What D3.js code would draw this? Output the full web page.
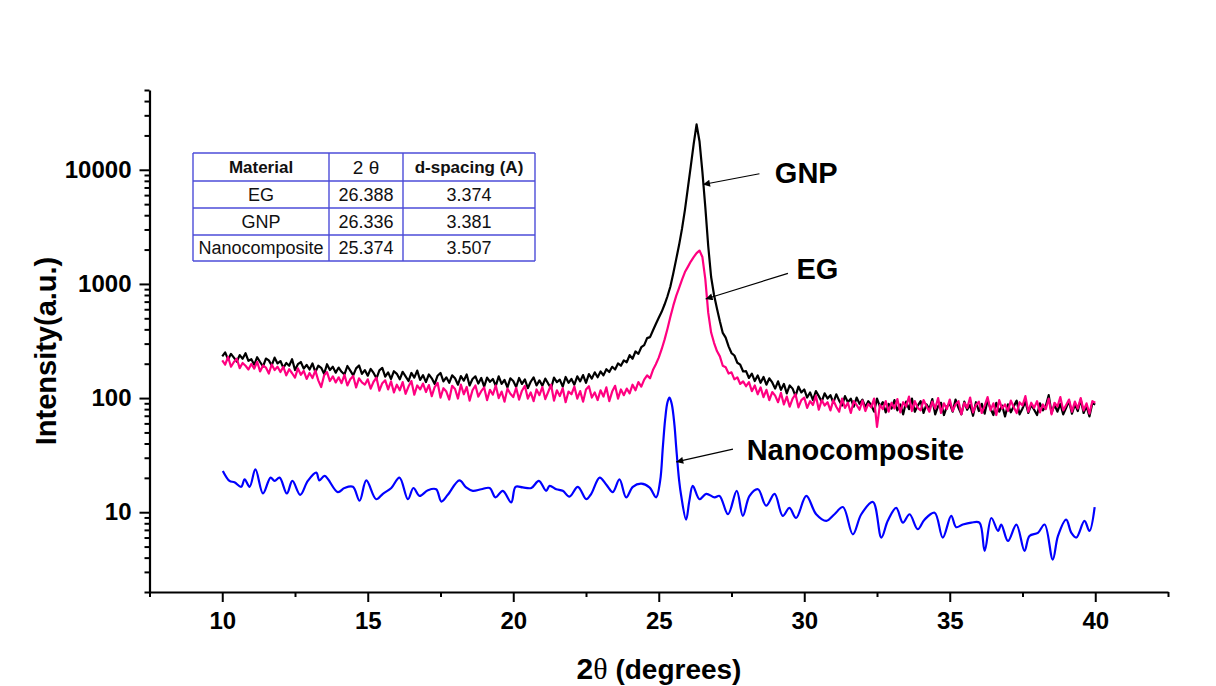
<!DOCTYPE html>
<html>
<head>
<meta charset="utf-8">
<script src="https://cdn.jsdelivr.net/npm/d3@7"></script>
<style>
  html, body { margin: 0; padding: 0; background: #ffffff; }
  svg { display: block; }
  text { font-family: "Liberation Sans", Arial, sans-serif; }
</style>
</head>
<body>
<svg id="chart" width="1216" height="686"></svg>
<script>
// XRD patterns: 2θ grid for the two dense scans (10° → 40°, 0.1° step)
const scanStart = 10.0;
const scanStep = 0.1;

// GNP intensity (counts), one value per 0.1°
const gnpIntensity = [
  232, 251, 218, 244, 226, 209, 238, 221, 247, 212,
  219, 196, 228, 207, 189, 222, 214, 193, 226, 201,
  211, 184, 203, 192, 219, 176, 198, 207, 181, 195,
  178, 201, 169, 192, 184, 163, 198, 176, 188, 167,
  185, 170, 161, 191, 174, 158, 182, 193, 163, 176,
  157, 180, 166, 149, 175, 184, 154, 168, 147, 172,
  163, 146, 170, 155, 141, 166, 151, 174, 144, 159,
  138, 161, 149, 133, 157, 166, 140, 152, 136, 158,
  149, 131, 156, 142, 161, 129, 147, 155, 134, 150,
  126, 151, 139, 147, 128, 155, 133, 144, 124, 149,
  141, 125, 150, 133, 146, 122, 139, 152, 129, 143,
  128, 148, 134, 122, 151, 138, 145, 126, 153, 136,
  147, 131, 155, 140, 159, 136, 162, 148, 168, 152,
  171, 158, 179, 169, 188, 178, 201, 192, 214, 206,
  238, 221, 256, 244, 279, 291, 335, 342, 391, 446,
  505, 570, 660, 780, 950, 1240, 1650, 2200, 3050, 4450,
  6900, 10700, 16800, 25000, 17800, 9600, 4700, 2150, 1150, 800,
  610, 470, 372, 338, 284, 248, 236, 204, 196, 171,
  172, 150, 164, 141, 158, 136, 153, 131, 149, 137,
  121, 140, 118, 133, 110, 129, 121, 104, 126, 112,
  119, 101, 112, 96, 115, 104, 93, 110, 99, 106,
  91, 108, 95, 86, 104, 92, 99, 84, 101, 89,
  97, 83, 94, 87, 76, 99, 84, 92, 75, 89,
  81, 96, 78, 88, 72, 93, 80, 99, 76, 86,
  94, 74, 88, 80, 98, 72, 85, 91, 71, 84,
  90, 76, 97, 82, 72, 93, 79, 87, 70, 92,
  77, 89, 73, 96, 81, 71, 91, 76, 86, 69,
  88, 75, 85, 95, 72, 81, 93, 74, 87, 79,
  71, 90, 78, 85, 106, 74, 87, 76, 89, 72,
  82, 94, 73, 88, 77, 97, 74, 85, 69, 90,
  88
];

// EG intensity (counts), one value per 0.1°
const egIntensity = [
  214, 196, 229, 188, 207, 221, 183, 203, 192, 178,
  199, 181, 208, 171, 193, 185, 164, 197, 176, 188,
  169, 188, 158, 179, 165, 151, 182, 160, 173, 147,
  166, 150, 174, 143, 125, 158, 169, 141, 155, 137,
  152, 135, 160, 129, 146, 156, 124, 149, 137, 131,
  146, 121, 139, 151, 116, 135, 143, 119, 140, 112,
  131, 117, 138, 109, 126, 141, 107, 129, 119, 134,
  113, 130, 104, 125, 136, 101, 122, 114, 97, 128,
  120, 99, 131, 108, 125, 95, 117, 129, 103, 115,
  124, 96, 118, 107, 129, 100, 114, 93, 121, 109,
  102, 123, 97, 116, 128, 99, 112, 94, 119, 106,
  125, 98, 113, 131, 95, 117, 104, 122, 92, 114,
  108, 126, 99, 115, 93, 119, 127, 101, 112, 96,
  117, 103, 124, 94, 114, 128, 99, 119, 106, 121,
  110, 131, 117, 138, 126, 145, 158, 149, 176, 198,
  226, 268, 325, 405, 515, 645, 785, 925, 1090, 1270,
  1410, 1570, 1720, 1860, 1960, 1720, 1100, 560, 375, 305,
  258, 232, 192, 186, 164, 168, 146, 152, 133, 140,
  127, 138, 115, 129, 108, 124, 102, 118, 96, 113,
  105, 92, 111, 88, 103, 84, 99, 108, 83, 96,
  101, 82, 94, 87, 105, 79, 96, 86, 92, 78,
  96, 84, 76, 99, 82, 91, 74, 94, 87, 79,
  95, 77, 89, 83, 99, 56, 87, 80, 94, 76,
  91, 81, 98, 75, 92, 84, 103, 77, 94, 82,
  78, 96, 85, 76, 93, 81, 100, 74, 90, 80,
  97, 77, 88, 94, 72, 91, 82, 101, 75, 87,
  93, 74, 86, 102, 78, 90, 71, 96, 81, 88,
  77, 95, 83, 74, 92, 86, 104, 76, 91, 82,
  94, 75, 88, 80, 99, 72, 91, 84, 102, 78,
  87, 97, 76, 93, 81, 100, 78, 90, 73, 94,
  91
];

// Nanocomposite scan: 2θ positions and intensities
const nanoTwoTheta = [
  10.02, 10.25, 10.42, 10.65, 10.77, 10.94, 11.14, 11.4, 11.66, 11.8,
  11.97, 12.22, 12.41, 12.68, 12.94, 13.23, 13.34, 13.52, 13.97, 14.2,
  14.49, 14.72, 14.95, 15.29, 15.52, 15.81, 16.09, 16.38, 16.57, 16.78,
  17.07, 17.35, 17.53, 17.75, 18.15, 18.38, 18.61, 18.9, 19.19, 19.39,
  19.64, 19.93, 20.08, 20.33, 20.62, 20.88, 21.13, 21.25, 21.48, 21.7,
  21.93, 22.22, 22.51, 22.68, 22.97, 23.2, 23.42, 23.65, 23.88, 24.11,
  24.4, 24.68, 24.91, 25.05, 25.14, 25.22, 25.3, 25.37, 25.45, 25.54,
  25.6, 25.7, 25.77, 25.94, 26.05, 26.17, 26.4, 26.63, 26.92, 27.09,
  27.38, 27.68, 27.89, 28.12, 28.41, 28.69, 28.98, 29.26, 29.49, 29.72,
  30.07, 30.41, 30.76, 31.04, 31.33, 31.67, 31.96, 32.36, 32.65, 32.87,
  33.16, 33.39, 33.62, 33.9, 34.13, 34.48, 34.76, 35.05, 35.22, 35.45,
  35.74, 36.02, 36.2, 36.43, 36.66, 36.77, 37.0, 37.29, 37.57, 37.74,
  38.03, 38.26, 38.54, 38.72, 39.0, 39.18, 39.35, 39.63, 39.8, 39.98
];
const nanoIntensity = [
  23.0, 18.8, 18.3, 16.7, 19.4, 16.7, 23.7, 14.6, 20.1, 18.8,
  20.1, 14.6, 18.8, 14.2, 18.8, 22.2, 19.0, 20.8, 15.0, 16.3,
  16.7, 12.6, 19.0, 13.0, 14.5, 16.3, 20.1, 13.0, 16.3, 13.9,
  15.6, 15.9, 12.4, 14.2, 19.0, 16.5, 15.4, 15.9, 16.3, 13.5,
  15.4, 12.2, 16.7, 16.5, 16.3, 18.8, 15.4, 17.0, 15.9, 15.4,
  13.7, 16.7, 13.0, 14.5, 20.1, 17.4, 15.0, 19.4, 13.5, 16.7,
  17.8, 16.5, 13.5, 19, 37, 65, 92, 101, 88, 58,
  37, 19, 14, 8.6, 12.5, 17.0, 13.0, 14.5, 13.5, 13.9,
  9.6, 15.4, 9.3, 13.9, 15.9, 11.4, 14.5, 9.3, 10.9, 8.9,
  13.9, 9.6, 8.4, 9.6, 11.1, 6.4, 9.6, 12.3, 6.0, 8.4,
  10.9, 8.1, 9.6, 7.1, 8.6, 9.9, 6.0, 9.3, 7.4, 7.8,
  8.1, 8.1, 4.58, 8.9, 6.85, 7.8, 5.6, 7.8, 4.58, 6.2,
  6.6, 7.8, 3.85, 6.2, 8.6, 6.6, 6.0, 8.4, 6.85, 11.1
];

// Axis ticks
const xMajorTicks = [10, 15, 20, 25, 30, 35, 40];
const xMinorTicks = [7.5, 12.5, 17.5, 22.5, 27.5, 32.5, 37.5, 42.5];
const yMajorTicks = [10, 100, 1000, 10000];
const yMinorTicks = [2, 3, 4, 5, 6, 7, 8, 9,
  20, 30, 40, 50, 60, 70, 80, 90,
  200, 300, 400, 500, 600, 700, 800, 900,
  2000, 3000, 4000, 5000, 6000, 7000, 8000, 9000,
  20000, 30000, 40000, 50000];

// Peak table
const tableHeader = ["Material", "2 θ", "d-spacing (A)"];
const tableMaterials = ["EG", "GNP", "Nanocomposite"];
const tablePeakPositions = ["26.388", "26.336", "25.374"];
const tableDSpacings = ["3.374", "3.381", "3.507"];

// Curve labels with arrows (2θ, intensity)
const labelNames = ["GNP", "EG", "Nanocomposite"];
const labelAnchors = [[28.99, 9480], [29.73, 1362], [28.02, 35.2]];
const arrowTails = [[28.46, 9230], [29.44, 1239], [27.55, 35.7]];
const arrowHeads = [[26.52, 7430], [26.61, 738], [25.60, 27.6]];

const svg = d3.select("#chart");

const x = d3.scaleLinear().domain([7.5, 42.5]).range([149.5, 1168]);
const y = d3.scaleLog().domain([2, 50000]).range([592, 90]);

// Arrowhead marker
svg.append("defs").append("marker")
  .attr("id", "arrowhead")
  .attr("viewBox", "0 0 10 10")
  .attr("refX", 10).attr("refY", 5)
  .attr("markerWidth", 10).attr("markerHeight", 7)
  .attr("markerUnits", "userSpaceOnUse")
  .attr("orient", "auto")
  .append("path").attr("d", "M0,0 L10,5 L0,10 Z").attr("fill", "#000");

// X axis
const xAxisG = svg.append("g").attr("transform", "translate(0,592)");
xAxisG.append("g")
  .call(d3.axisBottom(x).tickValues(xMinorTicks).tickSize(5).tickFormat(""))
  .call(g => g.select(".domain").remove());
xAxisG.append("g")
  .call(d3.axisBottom(x).tickValues(xMajorTicks).tickSize(10).tickSizeOuter(0).tickPadding(10).tickFormat(d3.format("d")))
  .call(g => g.select(".domain").attr("stroke-width", 2.2))
  .call(g => g.selectAll(".tick text")
    .attr("font-size", 24).attr("font-weight", "bold").attr("fill", "#000")
    .attr("font-family", "Liberation Sans, Arial, sans-serif"));
xAxisG.selectAll(".tick line").attr("stroke-width", 2);

// Y axis
const yAxisG = svg.append("g").attr("transform", "translate(149.5,0)");
yAxisG.append("g")
  .call(d3.axisLeft(y).tickValues(yMinorTicks).tickSize(5).tickFormat(""))
  .call(g => g.select(".domain").remove());
yAxisG.append("g")
  .call(d3.axisLeft(y).tickValues(yMajorTicks).tickSize(10).tickSizeOuter(0).tickPadding(8).tickFormat(d3.format("d")))
  .call(g => g.select(".domain").attr("stroke-width", 2.2))
  .call(g => g.selectAll(".tick text")
    .attr("font-size", 24).attr("font-weight", "bold").attr("fill", "#000")
    .attr("font-family", "Liberation Sans, Arial, sans-serif"));
yAxisG.selectAll(".tick line").attr("stroke-width", 2);

// Axis titles
svg.append("text")
  .attr("transform", "translate(56,351) rotate(-90)")
  .attr("text-anchor", "middle")
  .attr("font-size", 29).attr("font-weight", "bold")
  .text("Intensity(a.u.)");

const xTitle = svg.append("text")
  .attr("x", 659).attr("y", 679)
  .attr("text-anchor", "middle")
  .attr("font-weight", "bold");
xTitle.append("tspan").attr("font-size", 30).text("2");
xTitle.append("tspan").attr("font-size", 30).attr("font-weight", "normal")
  .attr("font-family", "Liberation Serif, Times New Roman, serif").text("θ");
xTitle.append("tspan").attr("font-size", 28).text(" (degrees)");

// Data lines
const line = d3.line().x(d => x(d[0])).y(d => y(d[1]));
const smoothLine = d3.line().x(d => x(d[0])).y(d => y(d[1])).curve(d3.curveCatmullRom.alpha(0.5));
const gnpPoints = gnpIntensity.map((v, i) => [scanStart + i * scanStep, v]);
const egPoints = egIntensity.map((v, i) => [scanStart + i * scanStep, v]);
const nanoPoints = nanoTwoTheta.map((t, i) => [t, nanoIntensity[i]]);

svg.append("path").datum(gnpPoints)
  .attr("d", line).attr("fill", "none")
  .attr("stroke", "#000000").attr("stroke-width", 2.2).attr("stroke-linejoin", "round");
svg.append("path").datum(egPoints)
  .attr("d", line).attr("fill", "none")
  .attr("stroke", "#ff0080").attr("stroke-width", 2.2).attr("stroke-linejoin", "round");
svg.append("path").datum(nanoPoints)
  .attr("d", smoothLine).attr("fill", "none")
  .attr("stroke", "#0000ff").attr("stroke-width", 2.2).attr("stroke-linejoin", "round");

// Curve labels and arrows
labelNames.forEach((name, i) => {
  svg.append("line")
    .attr("x1", x(arrowTails[i][0])).attr("y1", y(arrowTails[i][1]))
    .attr("x2", x(arrowHeads[i][0])).attr("y2", y(arrowHeads[i][1]))
    .attr("stroke", "#000").attr("stroke-width", 1.2)
    .attr("marker-end", "url(#arrowhead)");
  svg.append("text")
    .attr("x", x(labelAnchors[i][0])).attr("y", y(labelAnchors[i][1]))
    .attr("dy", "0.36em")
    .attr("font-size", 29).attr("font-weight", "bold")
    .text(name);
});

// Peak table
const colEdges = [193, 329, 403, 535];
const rowEdges = [153, 181, 208, 235, 261];
const table = svg.append("g");
const rows = [tableHeader].concat(tableMaterials.map((m, i) => [m, tablePeakPositions[i], tableDSpacings[i]]));
rows.forEach((row, r) => {
  row.forEach((cell, c) => {
    const cx = (colEdges[c] + colEdges[c + 1]) / 2;
    const cy = (rowEdges[r] + rowEdges[r + 1]) / 2;
    const t = table.append("text")
      .attr("x", cx).attr("y", cy).attr("dy", "0.36em")
      .attr("text-anchor", "middle")
      .attr("font-size", r === 0 ? 17 : 18)
      .attr("font-weight", r === 0 ? "bold" : "normal")
      .attr("fill", "#111")
      .text(cell);
    if (r === 0 && c === 1) {
      t.attr("font-family", "Liberation Serif, Times New Roman, serif").attr("font-weight", "normal").attr("font-size", 19);
    }
  });
});
rowEdges.forEach(ry => {
  table.append("line").attr("x1", colEdges[0]).attr("x2", colEdges[3])
    .attr("y1", ry).attr("y2", ry)
    .attr("stroke", "#4c4cd8").attr("stroke-width", 1.4);
});
colEdges.forEach(cx => {
  table.append("line").attr("x1", cx).attr("x2", cx)
    .attr("y1", rowEdges[0]).attr("y2", rowEdges[4])
    .attr("stroke", "#4c4cd8").attr("stroke-width", 1.4);
});
</script>
</body>
</html>
